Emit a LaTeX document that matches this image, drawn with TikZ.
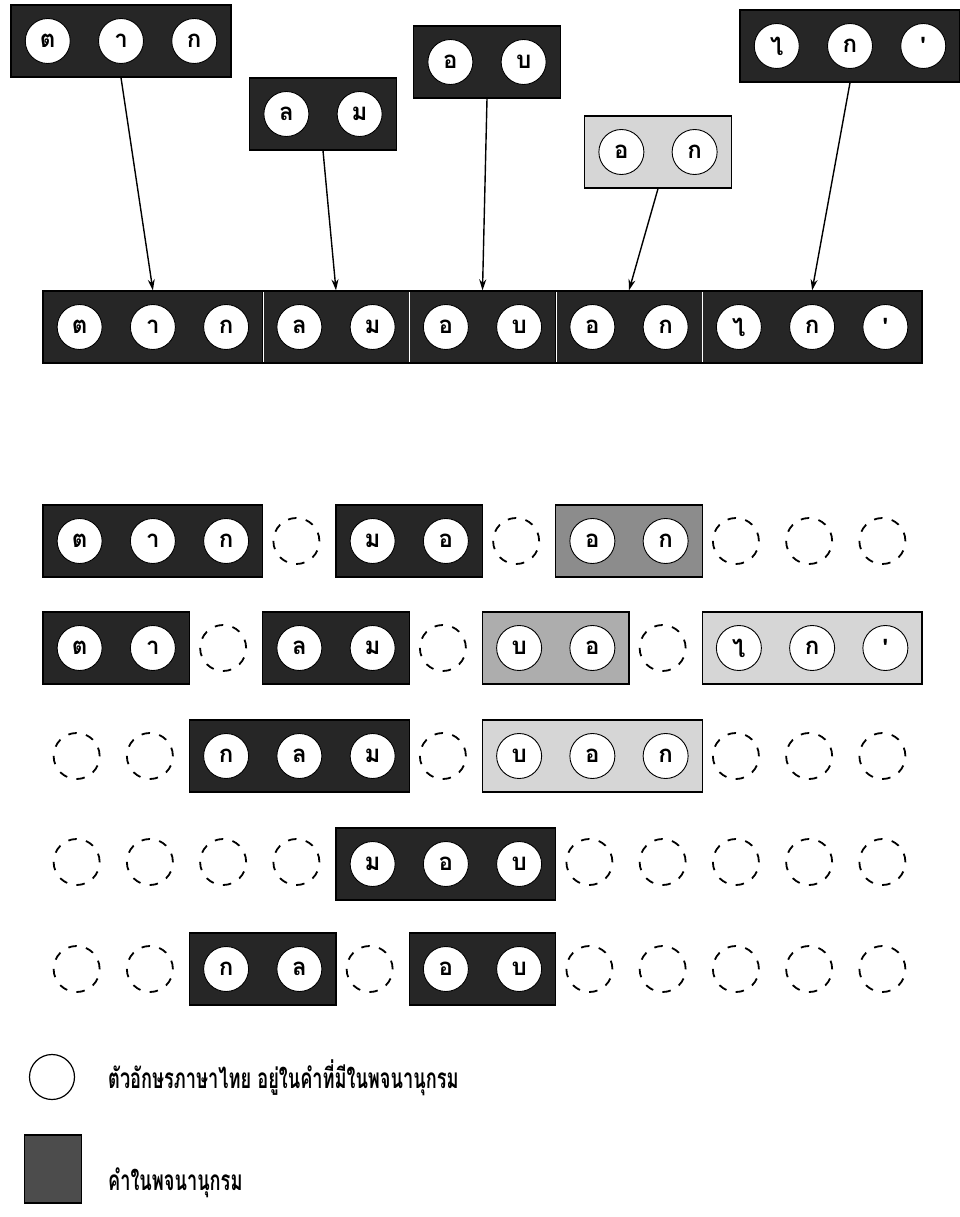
\documentclass[tikz,border=0pt]{standalone}
\usepackage{fontspec}
\newfontfamily\thaifont[Script=Thai]{Loma}
\newfontfamily\thaicond[Script=Thai,FakeStretch=0.65]{Loma}
\usetikzlibrary{arrows.meta}

\tikzset{
  wordbase/.style={rectangle, draw=black, line width=1.3pt, minimum height=72pt, inner sep=0pt},
  darkbox/.style={wordbase, fill=black!85},
  midbox/.style={wordbase, fill=black!45},
  lightbox/.style={wordbase, fill=black!16},
  letter/.style={circle, draw=black, line width=0.9pt, fill=white, minimum size=45pt, inner sep=0pt,
    font=\thaifont\bfseries\fontsize{24}{28}\selectfont},
  gap/.style={circle, draw=black, line width=1.8pt, dash pattern=on 8.5pt off 9.5pt, minimum size=46pt, inner sep=0pt},
  keycircle/.style={circle, draw=black, line width=1.2pt, minimum size=45pt, inner sep=0pt},
  link/.style={line width=1.4pt, -{Stealth[length=11pt,width=7pt]}},
  legend/.style={anchor=west, inner sep=0pt, font=\thaicond\bfseries\fontsize{28}{32}\selectfont},
}

% #1 name, #2 style, #3 centre x, #4 y, #5 number of letters, #6 letters
\newcommand{\wordbox}[6]{%
  \node[#2, minimum width=#5*73.25pt] (#1) at (#3,#4) {};
  \foreach \c [count=\i] in {#6}
    \node[letter] (#1-\i) at ({#3+(\i-(#5+1)/2)*73.25}, #4) {\c};
}
% same, but placed on the slots of the sentence: #3 y, #4 first slot
\newcommand{\gridword}[6]{%
  \pgfmathsetmacro\wx{43+73.25*(#4+#5/2)}
  \wordbox{#1}{#2}{\wx}{#3}{#5}{#6}
}
% empty slots of a row
\newcommand{\gaps}[3]{%
  \foreach \s in {#3}
    \node[gap] (#1-g\s) at ({40+73.25*(\s+0.5)}, #2) {};
}

\begin{document}
\begin{tikzpicture}[x=1pt, y=-1pt]
  \useasboundingbox (0,0) rectangle (959,1217);
  % dictionary words
  \wordbox{t1}{darkbox}{121}{41}{3}{ต,า,ก}
  \wordbox{t2}{darkbox}{323}{114}{2}{ล,ม}
  \wordbox{t3}{darkbox}{487}{62}{2}{อ,บ}
  \wordbox{t4}{lightbox}{658}{152}{2}{อ,ก}
  \wordbox{t5}{darkbox}{850}{46}{3}{ไ,ก,'}
  % the sentence
  \gridword{m1}{darkbox}{327}{0}{3}{ต,า,ก}
  \gridword{m2}{darkbox}{327}{3}{2}{ล,ม}
  \gridword{m3}{darkbox}{327}{5}{2}{อ,บ}
  \gridword{m4}{darkbox}{327}{7}{2}{อ,ก}
  \gridword{m5}{darkbox}{327}{9}{3}{ไ,ก,'}
  \foreach \w in {m1,m2,m3,m4}
    \draw[white, line width=1pt, shorten <=1.5pt, shorten >=1.5pt] (\w.north east) -- (\w.south east);
  \foreach \t/\m in {t1/m1,t2/m2,t3/m3,t4/m4,t5/m5}
    \draw[link] (\t.south) -- (\m.north);
  % candidate segmentations
  \gridword{a1}{darkbox}{541}{0}{3}{ต,า,ก}
  \gridword{a2}{darkbox}{541}{4}{2}{ม,อ}
  \gridword{a3}{midbox}{541}{7}{2}{อ,ก}
  \gaps{a}{541}{3,6,9,10,11}
  \gridword{b1}{darkbox}{648}{0}{2}{ต,า}
  \gridword{b2}{darkbox}{648}{3}{2}{ล,ม}
  \gridword{b3}{midbox, fill=black!32}{648}{6}{2}{บ,อ}
  \gridword{b4}{lightbox}{648}{9}{3}{ไ,ก,'}
  \gaps{b}{648}{2,5,8}
  \gridword{c1}{darkbox}{756}{2}{3}{ก,ล,ม}
  \gridword{c2}{lightbox}{756}{6}{3}{บ,อ,ก}
  \gaps{c}{756}{0,1,5,9,10,11}
  \gridword{d1}{darkbox}{864}{4}{3}{ม,อ,บ}
  \gaps{d}{862}{0,1,2,3,7,8,9,10,11}
  \gridword{e1}{darkbox}{969}{2}{2}{ก,ล}
  \gridword{e2}{darkbox}{969}{5}{2}{อ,บ}
  \gaps{e}{969}{0,1,4,7,8,9,10,11}
  % legend
  \node[keycircle] (k1) at (52,1077) {};
  \node[legend] (k1t) at (108,1078) {ตัวอักษรภาษาไทย อยู่ในคำที่มีในพจนานุกรม};
  \node[wordbase, fill=black!70, minimum width=57pt, minimum height=68pt] (k2) at (53,1169) {};
  \node[legend] (k2t) at (108,1183) {คำในพจนานุกรม};
\end{tikzpicture}
\end{document}
